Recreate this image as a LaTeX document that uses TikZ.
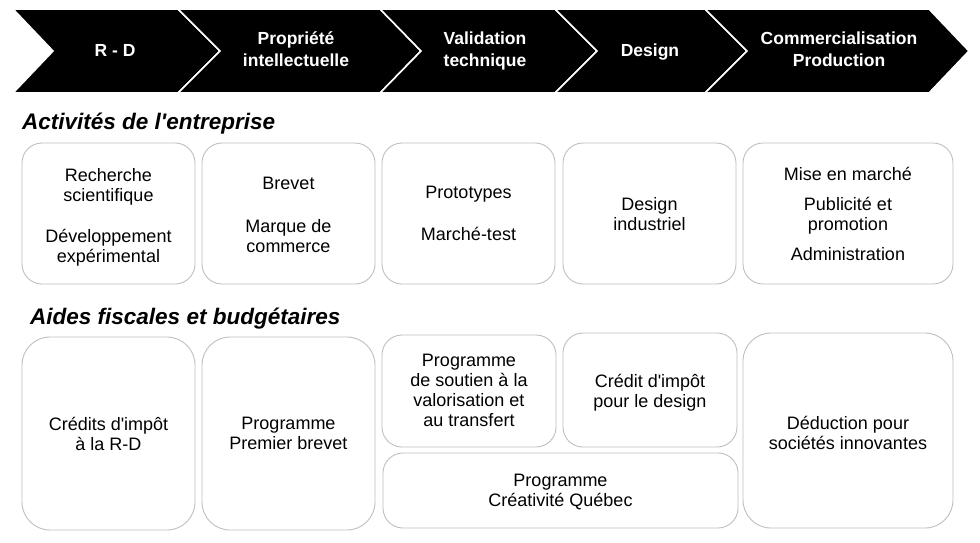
\documentclass[tikz,border=0pt]{standalone}
\usepackage{fontspec}
\setmainfont{Liberation Sans}
\newcommand{\apos}{\textquotesingle}
\begin{document}
\begin{tikzpicture}[x=1pt,y=-1pt,
  chev/.style={fill=black,draw=white,line width=1.6pt,line join=miter},
  chevtext/.style={text=white,font=\bfseries\fontsize{17.5}{22}\selectfont,align=center,
    inner sep=0pt,anchor=center,execute at begin node=\strut,execute at end node=\strut},
  sectitle/.style={font=\bfseries\itshape\fontsize{22.5}{26}\selectfont,anchor=base west,inner sep=0pt},
  box/.style={draw=black!25,line width=0.9pt,rounded corners=20pt,inner sep=0pt},
  bigbox/.style={box,rounded corners=28pt},
  btext/.style={align=center,font=\fontsize{18}{20}\selectfont,inner sep=0pt,anchor=north,
    execute at begin node=\strut}]
\useasboundingbox (0,0) rectangle (980,542);
\fill[white] (0,0) rectangle (980,542);
% chevrons
\draw[chev] (13,9) -- (178,9) -- (220,51) -- (178,93) -- (13,93) -- (53,51) -- cycle;
\draw[chev] (178,9) -- (380,9) -- (421,51) -- (380,93) -- (178,93) -- (220,51) -- cycle;
\draw[chev] (380,9) -- (555,9) -- (597,51) -- (555,93) -- (380,93) -- (421,51) -- cycle;
\draw[chev] (555,9) -- (705,9) -- (747,51) -- (705,93) -- (555,93) -- (597,51) -- cycle;
\draw[chev] (705,9) -- (929,9) -- (969,51) -- (929,93) -- (705,93) -- (747,51) -- cycle;
\node[chevtext] (c1) at (115,52) {R - D};
\node[chevtext] (c2) at (296,52.5) {Propriété\\intellectuelle};
\node[chevtext] (c3) at (485,52.5) {Validation\\technique};
\node[chevtext] (c4) at (650,52) {Design};
\node[chevtext] (c5) at (839,52.5) {Commercialisation\\Production};
% section titles
\node[sectitle] (t1) at (22,129) {Activités de l\apos entreprise};
\node[sectitle] (t2) at (30,324) {Aides fiscales et budgétaires};
% activity boxes
\node[box,minimum width=173pt,minimum height=141pt] (a1) at (108.5,213.5) {};
\node[box,minimum width=173pt,minimum height=141pt] (a2) at (288.5,213.5) {};
\node[box,minimum width=173pt,minimum height=141pt] (a3) at (468.5,213.5) {};
\node[box,minimum width=173pt,minimum height=141pt] (a4) at (649.5,213.5) {};
\node[box,minimum width=210pt,minimum height=141pt] (a5) at (848,213.5) {};
\node[btext] (a1t) at (a1.center |- 0,168) {Recherche\\scientifique\\[21pt]Développement\\expérimental};
\node[btext] (a2t) at (a2.center |- 0,177) {Brevet\\[23pt]Marque de\\commerce};
\node[btext] (a3t) at (a3.center |- 0,186) {Prototypes\\[22pt]Marché-test};
\node[btext] (a4t) at (a4.center |- 0,197) {Design\\industriel};
\node[btext] (a5t) at (a5.center |- 0,167) {Mise en marché\\[10pt]Publicité et\\promotion\\[10pt]Administration};
% aid boxes
\node[bigbox,minimum width=173pt,minimum height=193pt] (b1) at (108.5,433.5) {};
\node[bigbox,minimum width=173pt,minimum height=193pt] (b2) at (288.5,433.5) {};
\node[box,minimum width=174pt,minimum height=112pt] (b3) at (469,391) {};
\node[box,minimum width=174pt,minimum height=114pt] (b4) at (650,390) {};
\node[box,minimum width=355pt,minimum height=75pt] (b5) at (560.5,490.5) {};
\node[bigbox,minimum width=210pt,minimum height=195pt] (b6) at (848,430.5) {};
\node[btext] (b1t) at (b1.center |- 0,417) {Crédits d\apos impôt\\à la R-D};
\node[btext] (b2t) at (b2.center |- 0,417) {Programme\\Premier brevet};
\node[btext] (b3t) at (b3.center |- 0,354) {Programme\\de soutien à la\\valorisation et\\au transfert};
\node[btext] (b4t) at (b4.center |- 0,374) {Crédit d\apos impôt\\pour le design};
\node[btext] (b5t) at (b5.center |- 0,474) {Programme\\Créativité Québec};
\node[btext] (b6t) at (b6.center |- 0,416) {Déduction pour\\sociétés innovantes};
\end{tikzpicture}
\end{document}
